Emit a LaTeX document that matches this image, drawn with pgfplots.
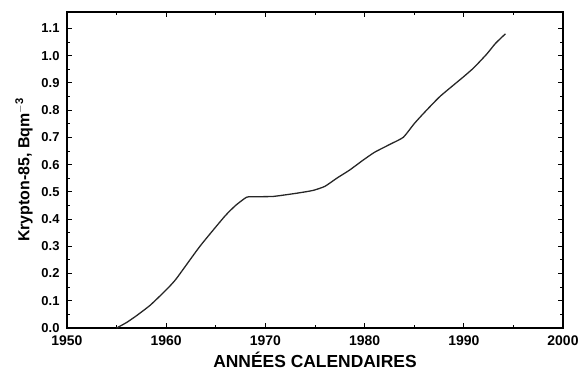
\documentclass[border=0pt]{standalone}
\usepackage{fontspec}
\setmainfont{Liberation Sans}
\usepackage{pgfplots}
\pgfplotsset{compat=1.18}
\begin{document}
\begin{tikzpicture}
\begin{axis}[
  scale only axis,
  width=496bp, height=316bp,
  xmin=1950, xmax=2000, ymin=0, ymax=1.16,
  xtick={1950,1960,...,2000},
  minor x tick num=1,
  ytick={0,0.1,...,1.1},
  minor y tick num=1,
  tick align=inside,
  ticks=both,
  major tick length=5bp,
  minor tick length=3bp,
  every tick/.style={black, line width=0.8pt},
  axis line style={black, line width=1.5pt},
  /pgf/number format/assume math mode=true,
  x tick label style={/pgf/number format/set thousands separator={}, font=\bfseries\fontsize{14}{14}\selectfont, yshift=-4bp},
  y tick label style={/pgf/number format/fixed, /pgf/number format/fixed zerofill, /pgf/number format/precision=1, font=\bfseries\fontsize{13}{13}\selectfont, xshift=-4bp},
  xlabel={ANNÉES CALENDAIRES},
  xlabel style={font=\bfseries\fontsize{17.5}{17.5}\selectfont, yshift=0bp},
  ylabel={Krypton-85, Bqm$^{\mathbf{-3}}$},
  ylabel style={font=\bfseries\fontsize{16}{16}\selectfont, yshift=2bp},
]
\addplot[black!85, line width=1.3pt, smooth, tension=0.3] coordinates {
(1955,0) (1956,0.02) (1957,0.045) (1958.4,0.084) (1960,0.14) (1961,0.18)
(1963.4,0.30) (1965.9,0.41) (1967,0.45) (1968.1,0.48) (1969,0.482)
(1970.8,0.483) (1973.2,0.495) (1974.8,0.505) (1976,0.52) (1977.2,0.55)
(1978.5,0.58) (1979.8,0.615) (1981,0.645) (1982.6,0.675) (1983.9,0.70)
(1985,0.75) (1986,0.79) (1987.6,0.85) (1989.9,0.92) (1991,0.955)
(1992.3,1.005) (1993.2,1.045) (1994.2,1.08)
};
\end{axis}
\path ([shift={(-67bp,-53bp)}]current axis.south west) rectangle ([shift={(21bp,12bp)}]current axis.north east);
\end{tikzpicture}
\end{document}
